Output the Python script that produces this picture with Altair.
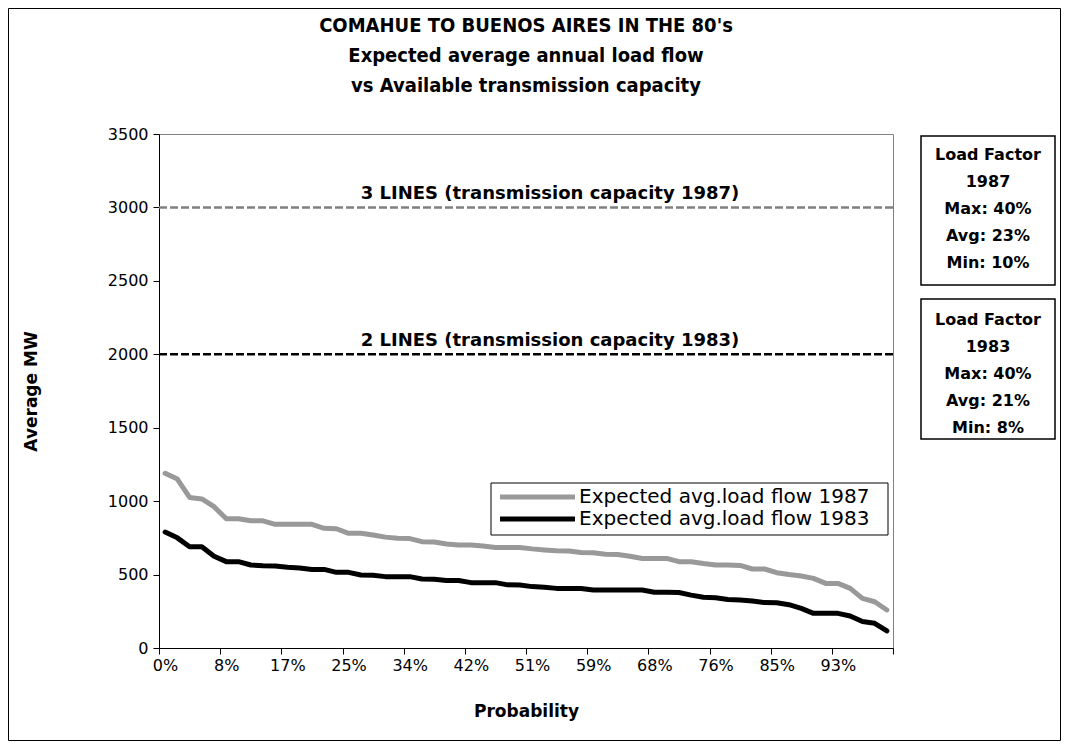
import altair as alt
import pandas as pd

# ---------------- data ----------------
tick_labels = ['0%', '8%', '17%', '25%', '34%', '42%', '51%', '59%', '68%', '76%', '85%', '93%']

flow_1987 = [1190, 1150, 1025, 1015, 962, 880, 880, 866, 866, 842,
             842, 842, 842, 815, 812, 781, 781, 770, 755, 748,
             745, 724, 722, 708, 701, 701, 695, 685, 685, 685,
             675, 668, 662, 660, 650, 648, 638, 636, 625, 610,
             610, 610, 588, 587, 575, 565, 565, 562, 538, 538,
             513, 500, 490, 474, 440, 440, 406, 338, 315, 259]

flow_1983 = [790, 750, 690, 690, 625, 588, 588, 565, 560, 558,
             550, 545, 535, 535, 515, 515, 497, 495, 486, 486,
             486, 470, 468, 460, 460, 445, 445, 445, 430, 429,
             418, 413, 406, 406, 405, 395, 395, 395, 395, 395,
             380, 380, 378, 360, 345, 342, 330, 327, 320, 309,
             308, 295, 270, 236, 236, 236, 218, 180, 168, 116]

series_names = ['Expected avg.load flow 1987', 'Expected avg.load flow 1983']
series_colors = ['#999999', '#000000']
capacities = [3000, 2000]
capacity_labels = ['3 LINES (transmission capacity 1987)', '2 LINES (transmission capacity 1983)']
box_texts = ['Load Factor\n1987\nMax: 40%\nAvg: 23%\nMin: 10%',
             'Load Factor\n1983\nMax: 40%\nAvg: 21%\nMin: 8%']
title_lines = ["COMAHUE TO BUENOS AIRES IN THE 80's",
               'Expected average annual load flow',
               'vs Available transmission capacity']

FONT = 'DejaVu Sans'
COND = 'DejaVu Sans Condensed'

n = len(flow_1987)
df = pd.DataFrame({
    'idx': list(range(n)) * 2,
    'mw': flow_1987 + flow_1983,
    'series': [series_names[0]] * n + [series_names[1]] * n,
})
cap_df = pd.DataFrame({'cap': capacities, 'label': capacity_labels,
                       'kind': ['1987', '1983']})
box_df1 = pd.DataFrame({'txt': [box_texts[0]]})
box_df2 = pd.DataFrame({'txt': [box_texts[1]]})
leg_df1 = pd.DataFrame({'series': [series_names[0]]})
leg_df2 = pd.DataFrame({'series': [series_names[1]]})
title_df = pd.DataFrame({'txt': ['\n'.join(title_lines)]})
frame_df = pd.DataFrame({'k': [0]})

label_array = '[' + ','.join("'%s'" % t for t in tick_labels) + ']'
x_values = [-0.5 + 5 * k for k in range(len(tick_labels) + 1)]

x_enc = alt.X('idx:Q',
              scale=alt.Scale(domain=[-0.5, n - 0.5], nice=False, zero=False),
              axis=alt.Axis(values=x_values,
                            labelExpr="datum.value < %d ? %s[round((datum.value + 0.5) / 5)] : ''" % (n - 1, label_array),
                            labelOffset=6, labelFlush=False, tickSize=6, labelPadding=3,
                            title='Probability', titlePadding=30,
                            grid=False))
y_enc = alt.Y('mw:Q',
              scale=alt.Scale(domain=[0, 3500], nice=False),
              axis=alt.Axis(values=list(range(0, 3501, 500)), format='d', tickSize=6,
                            labelPadding=5, title='Average MW', titlePadding=67,
                            grid=False))

lines = alt.Chart(df).mark_line(strokeWidth=5, strokeJoin='round', strokeCap='round').encode(
    x=x_enc,
    y=y_enc,
    color=alt.Color('series:N',
                    scale=alt.Scale(domain=series_names, range=series_colors),
                    legend=None),
    detail='series:N',
)

cap_rules = alt.Chart(cap_df).mark_rule(strokeWidth=2.5, strokeDash=[8, 3]).encode(
    y=alt.Y('cap:Q'),
    color=alt.Color('kind:N', scale=alt.Scale(domain=['1987', '1983'], range=['#808080', '#000000']),
                    legend=None),
)
cap_text = alt.Chart(cap_df).mark_text(fontSize=18, fontWeight='bold', font=FONT,
                                       color='#000000', baseline='bottom', dy=-4).encode(
    y=alt.Y('cap:Q'),
    x=alt.value(391),
    text='label:N',
)

# manual legend
leg_box = alt.Chart(frame_df).mark_rect(fill='#ffffff', stroke='#000000', strokeWidth=1).encode(
    x=alt.value(332), x2=alt.value(729), y=alt.value(349), y2=alt.value(401))
leg_line1 = alt.Chart(leg_df1).mark_rule(strokeWidth=5, color=series_colors[0]).encode(
    x=alt.value(341), x2=alt.value(416), y=alt.value(363))
leg_line2 = alt.Chart(leg_df2).mark_rule(strokeWidth=5, color=series_colors[1]).encode(
    x=alt.value(341), x2=alt.value(416), y=alt.value(385))
leg_text1 = alt.Chart(leg_df1).mark_text(fontSize=20, font=FONT, align='left', baseline='middle',
                                         color='#000000').encode(
    x=alt.value(420), y=alt.value(363), text='series:N')
leg_text2 = alt.Chart(leg_df2).mark_text(fontSize=20, font=FONT, align='left', baseline='middle',
                                         color='#000000').encode(
    x=alt.value(420), y=alt.value(385), text='series:N')

box1 = alt.Chart(box_df1).mark_rect(fill='#ffffff', stroke='#000000', strokeWidth=1.5).encode(
    x=alt.value(762), x2=alt.value(896), y=alt.value(2), y2=alt.value(151))
box2 = alt.Chart(box_df2).mark_rect(fill='#ffffff', stroke='#000000', strokeWidth=1.5).encode(
    x=alt.value(762), x2=alt.value(896), y=alt.value(165), y2=alt.value(305))
box1_text = alt.Chart(box_df1).mark_text(fontSize=16, fontWeight='bold', font=FONT, lineBreak='\n',
                                         lineHeight=27, baseline='top', color='#000000').encode(
    x=alt.value(829), y=alt.value(13), text='txt:N')
box2_text = alt.Chart(box_df2).mark_text(fontSize=16, fontWeight='bold', font=FONT, lineBreak='\n',
                                         lineHeight=27, baseline='top', color='#000000').encode(
    x=alt.value(829), y=alt.value(178), text='txt:N')

title_text = alt.Chart(title_df).mark_text(fontSize=20, fontWeight='bold', font=COND, lineBreak='\n',
                                           lineHeight=30, baseline='top', color='#000000').encode(
    x=alt.value(367), y=alt.value(-118), text='txt:N')

frame = alt.Chart(frame_df).mark_rect(fill=None, stroke='#000000', strokeWidth=1).encode(
    x=alt.value(-150.5), x2=alt.value(901.5), y=alt.value(-125.5), y2=alt.value(606.5))

chart = alt.layer(frame, title_text, cap_rules, cap_text, lines,
                  leg_box, leg_line1, leg_line2, leg_text1, leg_text2,
                  box1, box2, box1_text, box2_text).resolve_scale(
    color='independent'
).properties(
    width=734, height=514,
    autosize=alt.AutoSizeParams(type='none'),
    padding={'left': 151, 'top': 126, 'right': 168, 'bottom': 93},
    background='#ffffff',
).configure_view(
    stroke='#808080', strokeWidth=1
).configure_axis(
    labelFont=FONT, labelFontSize=16, labelColor='#000000',
    titleFont=FONT, titleFontSize=17, titleFontWeight='bold', titleColor='#000000',
    domainColor='#000000', tickColor='#000000', domainWidth=1, tickWidth=1,
)

chart.save('out.html', embed_options={'renderer': 'svg', 'actions': False})
